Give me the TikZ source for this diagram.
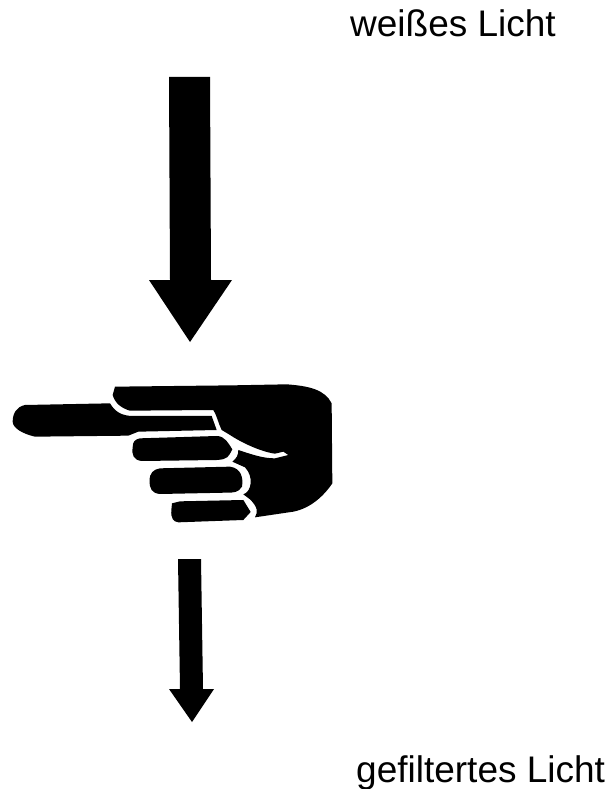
\documentclass[tikz,border=0pt]{standalone}
\usepackage{fontspec}
\setmainfont{Liberation Sans}
\begin{document}
\begin{tikzpicture}[x=1pt,y=-1pt,
  solid/.style={fill=black,draw=none},
  lab/.style={inner sep=0pt,anchor=base west,font=\fontsize{37}{44}\selectfont}]
\useasboundingbox (0,0) rectangle (612,789);
\node[lab] (top) at (350,37) {weißes Licht};
\node[lab] (bottom) at (356,782) {gefiltertes Licht};
\fill[solid] (169,77) -- (210,77) -- (211,280) -- (232,280) -- (190,342) -- (149,280) -- (170,280) -- cycle;
\fill[solid] (178,559) -- (201,559) -- (203,689) -- (214,689) -- (192,722) -- (169,689) -- (180,689) -- cycle;
\begin{scope}[x=0.33333pt,y=-0.33333pt,shift={(0,1080)}]
\fill[solid] (345,80) -- (700,76) -- (860,73) .. controls (930,78) and (975,90) .. (995,130) -- (997,370) .. controls (970,410) and (930,445) .. (880,455) -- (765,472) .. controls (775,455) and (772,440) .. (750,418) -- (730,403) .. controls (755,395) and (762,350) .. (735,322) -- (697,305) .. controls (710,295) and (715,285) .. (715,270) .. controls (760,285) and (790,295) .. (825,295) -- (865,285) -- (850,275) -- (825,281) .. controls (780,275) and (720,245) .. (690,225) -- (665,210) .. controls (655,190) and (650,165) .. (640,150) -- (390,152) .. controls (365,145) and (345,130) .. (338,105) -- cycle;
\fill[solid] (75,135) -- (330,130) .. controls (345,155) and (365,168) .. (400,168) -- (635,168) -- (650,210) -- (415,215) -- (385,227) -- (105,230) .. controls (70,222) and (38,205) .. (38,185) .. controls (38,160) and (50,140) .. (75,135) -- cycle;
\fill[solid] (420,235) -- (650,228) .. controls (675,228) and (685,250) .. (697,268) .. controls (685,290) and (685,298) .. (650,300) -- (425,303) .. controls (400,300) and (395,285) .. (398,262) .. controls (398,245) and (405,238) .. (420,235) -- cycle;
\fill[solid] (480,325) -- (690,320) .. controls (725,325) and (730,355) .. (726,380) .. controls (715,398) and (700,398) .. (680,398) -- (480,402) .. controls (455,400) and (448,385) .. (449,362) .. controls (448,340) and (460,328) .. (480,325) -- cycle;
\fill[solid] (540,424) -- (730,420) -- (752,456) -- (730,480) -- (535,487) .. controls (520,485) and (512,475) .. (514,450) -- (516,430) -- cycle;
\end{scope}
\end{tikzpicture}
\end{document}
